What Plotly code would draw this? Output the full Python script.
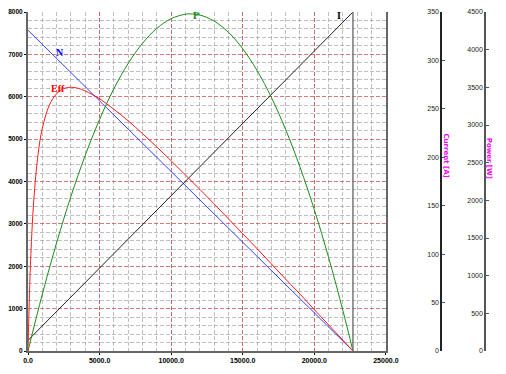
import plotly.graph_objects as go

# Torque axis (x) values
torque_line = [0, 22700]
speed = [7570, 0]            # N, rpm (left axis)
current = [11, 350]          # I, A (current axis)

torque_p = [0, 1000, 2000, 3000, 4000, 5000, 6000, 7000, 8000, 9000, 10000, 11000,
            11350, 12000, 13000, 14000, 15000, 16000, 17000, 18000, 19000, 20000,
            21000, 22000, 22700]
power = [0, 754, 1438, 2053, 2598, 3074, 3481, 3818, 4085, 4283, 4412, 4471,
         4475, 4460, 4380, 4231, 4012, 3724, 3366, 2939, 2442, 1876, 1240, 535, 0]

torque_e = [0, 100, 200, 400, 700, 1000, 1500, 2000, 2500, 3000, 3500, 4000, 5000,
            6000, 7000, 8000, 9000, 10000, 11000, 12000, 13000, 14000, 15000, 16000,
            17000, 18000, 19000, 20000, 21000, 22000, 22700]
eff = [0, 16.5, 28.4, 44.3, 57.9, 65.7, 72.6, 75.9, 77.4, 77.8, 77.5, 76.7, 74.4,
       71.3, 67.9, 64.1, 60.2, 56.1, 51.9, 47.7, 43.4, 39.0, 34.6, 30.2, 25.7, 21.2,
       16.8, 12.2, 7.7, 3.2, 0]

stall_torque = 22700
x_ticks = [0, 5000, 10000, 15000, 20000, 25000]

fig = go.Figure()
fig.add_trace(go.Scatter(x=torque_line, y=speed, mode="lines", line=dict(color="#3344ff", width=1), yaxis="y", name="N"))
fig.add_trace(go.Scatter(x=torque_e, y=eff, mode="lines", line=dict(color="#ff1a1a", width=1, shape="spline"), yaxis="y4", name="Eff"))
fig.add_trace(go.Scatter(x=torque_p, y=power, mode="lines", line=dict(color="#1a8c1a", width=1, shape="spline"), yaxis="y3", name="P"))
fig.add_trace(go.Scatter(x=torque_line, y=current, mode="lines", line=dict(color="#222222", width=1), yaxis="y2", name="I"))

fig.add_shape(type="line", x0=stall_torque, x1=stall_torque, y0=0, y1=8000, xref="x", yref="y",
              line=dict(color="#777777", width=1.5))

tickf = dict(size=7, color="#000000", family="Liberation Sans", weight="bold")
ytickf = dict(size=6.5, color="#000000", family="Liberation Sans", weight="bold")
rtickf = dict(size=7, color="#222222", family="Liberation Sans")
major_grid = dict(showgrid=True, gridcolor="rgba(195,70,70,0.7)", griddash="4px,2px", gridwidth=1)
minor_x = dict(dtick=1000, showgrid=True, gridcolor="rgba(140,140,140,0.55)", griddash="4px,2px", gridwidth=1)
minor_y = dict(dtick=200, showgrid=True, gridcolor="rgba(140,140,140,0.55)", griddash="4px,2px", gridwidth=1)

fig.update_layout(
    width=490, height=358,
    margin=dict(l=20, r=10, t=4, b=15),
    plot_bgcolor="white", paper_bgcolor="white",
    showlegend=False,
    xaxis=dict(domain=[0, 0.778], range=[0, 25000], tickvals=x_ticks, tickformat=".1f",
               tickfont=tickf, showline=True, linecolor="#666666", linewidth=2,
               ticks="outside", ticklen=2, tickcolor="#000", automargin=False,
               minor=minor_x, zeroline=False, **major_grid),
    yaxis=dict(range=[0, 8000], dtick=1000, tickformat="d", tickfont=ytickf,
               showline=True, linecolor="#666666", linewidth=2, mirror=True,
               ticks="outside", ticklen=2, tickcolor="#000", automargin=False,
               ticklabelstandoff=0,
               minor=minor_y, zeroline=False, **major_grid),
    yaxis2=dict(range=[0, 350], dtick=50, overlaying="y", anchor="free", side="left",
                position=0.898, showgrid=False, zeroline=False, showline=True,
                linecolor="#222222", linewidth=1.5, ticks="inside", ticklen=3,
                tickcolor="#555", tickfont=rtickf, automargin=False),
    yaxis3=dict(range=[0, 4500], dtick=500, overlaying="y", anchor="free", side="left",
                position=0.9935, showgrid=False, zeroline=False, showline=True,
                linecolor="#555555", linewidth=1.5, ticks="inside", ticklen=3,
                tickcolor="#555", tickfont=rtickf, automargin=False),
    yaxis4=dict(range=[0, 100], overlaying="y", visible=False),
)

lblf = dict(family="Liberation Serif", size=10, weight="bold")
fig.add_annotation(x=2235, y=7045, xref="x", yref="y", text="N", showarrow=False, font=dict(color="#0000ff", **lblf))
fig.add_annotation(x=2095, y=6196, xref="x", yref="y", text="Eff", showarrow=False, font=dict(color="#ff0000", **lblf))
fig.add_annotation(x=11732, y=1.012, xref="x", yref="paper", yanchor="top", text="P", showarrow=False, font=dict(color="#118811", **lblf))
fig.add_annotation(x=21718, y=1.012, xref="x", yref="paper", yanchor="top", text="I", showarrow=False, font=dict(color="#000000", **lblf))

fig.add_annotation(x=0.921, y=0.578, xref="paper", yref="paper", text="Current [A]", textangle=90,
                   showarrow=False, font=dict(color="#ff00ff", size=7, family="DejaVu Sans", weight="bold"))
fig.add_annotation(x=1.016, y=0.569, xref="paper", yref="paper", text="Power [W]", textangle=90,
                   showarrow=False, font=dict(color="#ff00ff", size=7, family="DejaVu Sans", weight="bold"))

fig.write_html("out.html")
